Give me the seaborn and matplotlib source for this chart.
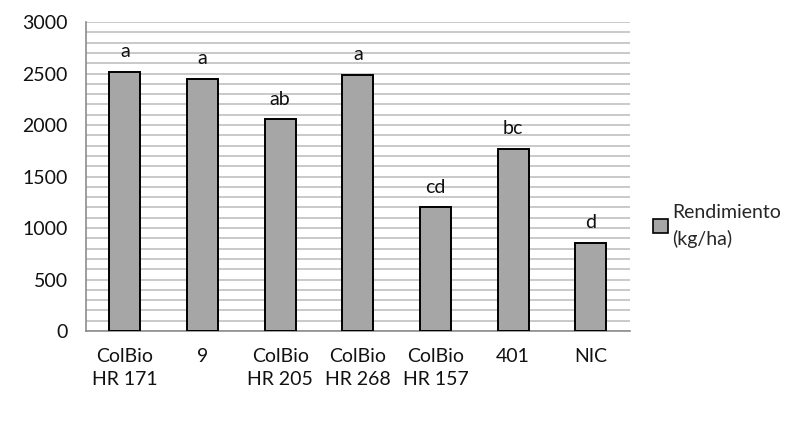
import matplotlib.pyplot as plt
import matplotlib.patches as mpatches
import seaborn as sns
from matplotlib.ticker import MultipleLocator

# Values
variedades = ['ColBio\nHR 171', '9', 'ColBio\nHR 205', 'ColBio\nHR 268',
              'ColBio\nHR 157', '401', 'NIC']
rendimiento = [2520, 2450, 2060, 2490, 1200, 1770, 860]
letras = ['a', 'a', 'ab', 'a', 'cd', 'bc', 'd']


def main():
    sns.set_style('white')
    plt.rcParams['font.family'] = ['Lato', 'DejaVu Sans']

    fig = plt.figure(figsize=(7.89, 4.25), dpi=100)
    ax = fig.add_axes([0.109, 0.221, 0.689, 0.727])

    sns.barplot(x=variedades, y=rendimiento, ax=ax, color='#a6a6a6',
                saturation=1, width=0.4, edgecolor='black', linewidth=1.4,
                zorder=3)

    for i, (v, l) in enumerate(zip(rendimiento, letras)):
        ax.text(i, v + 110, l, ha='center', va='bottom', fontsize=14, color='#111111')

    ax.set_ylim(0, 3000)
    ax.set_xlim(-0.5, len(variedades) - 0.5)
    ax.yaxis.set_major_locator(MultipleLocator(500))
    ax.yaxis.set_minor_locator(MultipleLocator(100))
    ax.grid(axis='y', which='both', color='#c0c0c0', lw=1.2, zorder=0)
    ax.set_axisbelow(True)

    for s in ['top', 'right']:
        ax.spines[s].set_visible(False)
    for s in ['left', 'bottom']:
        ax.spines[s].set_color('#8c8c8c')
        ax.spines[s].set_linewidth(1.2)

    ax.tick_params(axis='both', which='both', length=0, labelsize=14,
                   colors='#111111')
    ax.tick_params(axis='x', pad=12)
    ax.tick_params(axis='y', pad=13)
    for t in ax.get_xticklabels():
        t.set_linespacing(1.45)

    patch = mpatches.Patch(facecolor='#a6a6a6', edgecolor='black', lw=1.2,
                           label='Rendimiento\n(kg/ha)')
    ax.legend(handles=[patch], loc='center left', bbox_to_anchor=(1.0, 0.34),
              frameon=False, fontsize=14, handlelength=0.75, handleheight=0.75,
              handletextpad=0.25, borderaxespad=1.0, borderpad=0.2)
    for t in ax.get_legend().get_texts():
        t.set_linespacing(1.55)

    plt.savefig('out.png', dpi=100)


if __name__ == '__main__':
    main()
